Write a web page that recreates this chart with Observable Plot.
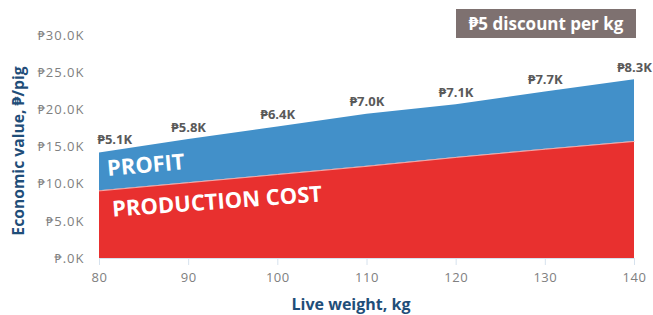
<!DOCTYPE html>
<html>
<head>
<meta charset="utf-8">
<script src="https://cdn.jsdelivr.net/npm/d3@7"></script>
<script src="https://cdn.jsdelivr.net/npm/@observablehq/plot@0.6"></script>
<style>
  html, body { margin: 0; padding: 0; background: #fff; }
  #wrap { position: relative; width: 653px; height: 315px; font-family: "Open Sans", "Noto Sans", "DejaVu Sans", sans-serif; }
  #title { position: absolute; left: 456px; top: 9px; width: 180px; height: 29px; background: #7e7170; color: #fff;
           font-weight: 700; font-size: 17px; line-height: 29px; text-align: center; }
  g[aria-label="y-axis tick label"] text { letter-spacing: 1px; }
  g[aria-label="x-axis tick label"] text { letter-spacing: 0.5px; }
  g[aria-label="profit label"] text { letter-spacing: 1px; }
  g[aria-label="series label"] text { letter-spacing: 0.4px; }
</style>
</head>
<body>
<div id="wrap"><div id="title">₱5 discount per kg</div></div>
<script>
const weights = [80, 90, 100, 110, 120, 130, 140];
const cost = [9.1, 10.2, 11.3, 12.4, 13.6, 14.7, 15.75];
const profit = [5.1, 5.8, 6.4, 7.0, 7.1, 7.7, 8.3];
const profitLabels = ["₱5.1K", "₱5.8K", "₱6.4K", "₱7.0K", "₱7.1K", "₱7.7K", "₱8.3K"];
const yTicks = [0, 5, 10, 15, 20, 25, 30];
const yTickLabels = ["₱.0K", "₱5.0K", "₱10.0K", "₱15.0K", "₱20.0K", "₱25.0K", "₱30.0K"];
const seriesNames = ["PROFIT", "PRODUCTION COST"];
const seriesLabelPos = [{x: 85.2, y: 12.5, r: -5}, {x: 93.2, y: 7.6, r: -4.2}];

const data = weights.map((w, i) => ({w, cost: cost[i], total: cost[i] + profit[i], label: profitLabels[i], i}));
const font = '"Open Sans", "Noto Sans", "DejaVu Sans", sans-serif';

const chart = Plot.plot({
  width: 653, height: 315,
  marginLeft: 99, marginRight: 19, marginTop: 35, marginBottom: 57,
  x: {domain: [80, 140]},
  y: {domain: [0, 30]},
  style: {fontFamily: font, background: "transparent", overflow: "visible"},
  marks: [
    Plot.areaY(data, {x: "w", y1: 0, y2: "cost", fill: "#e8302f"}),
    Plot.areaY(data, {x: "w", y1: "cost", y2: "total", fill: "#4290c9"}),
    Plot.lineY(data, {x: "w", y: "cost", stroke: "#f3c9c9", strokeWidth: 0.8}),
    Plot.ruleY([0], {stroke: "#d6e2ee"}),
    Plot.axisX({ticks: weights, tickSize: 7, tickPadding: 7, stroke: "#d6e2ee", fill: "#808080", fontSize: 13, label: null}),
    Plot.axisY({ticks: yTicks, tickFormat: d => yTickLabels[yTicks.indexOf(d)], tickSize: 0, tickPadding: 15, fill: "#808080", fontSize: 13, label: null}),
    Plot.text(data.filter(d => d.i === 0), {ariaLabel: "profit label", x: "w", y: "total", text: "label", dy: -13, dx: -2, textAnchor: "start", fill: "#595959", fontWeight: 700, fontSize: 13}),
    Plot.text(data.filter(d => d.i > 0), {ariaLabel: "profit label", x: "w", y: "total", text: "label", dy: -12, fill: "#595959", fontWeight: 700, fontSize: 13}),
    Plot.text(seriesNames.map((name, i) => ({name, ...seriesLabelPos[i]})).slice(0, 1), {ariaLabel: "series label", x: "x", y: "y", text: "name", rotate: -5, fill: "white", fontWeight: 700, fontSize: 22}),
    Plot.text(seriesNames.map((name, i) => ({name, ...seriesLabelPos[i]})).slice(1), {ariaLabel: "series label", x: "x", y: "y", text: "name", rotate: -4.2, fill: "white", fontWeight: 700, fontSize: 22}),
    Plot.text(["Economic value, ₱/pig"], {frameAnchor: "left", dx: -81, dy: 4, rotate: -90, textAnchor: "middle", lineAnchor: "middle", fill: "#1f4e79", fontWeight: 700, fontSize: 15.7}),
    Plot.text(["Live weight, kg"], {frameAnchor: "bottom", dx: -16, dy: 46, textAnchor: "middle", lineAnchor: "middle", fill: "#1f4e79", fontWeight: 700, fontSize: 16})
  ]
});
chart.style.position = "absolute";
chart.style.left = "0";
chart.style.top = "0";
document.getElementById("wrap").prepend(chart);
</script>
</body>
</html>
